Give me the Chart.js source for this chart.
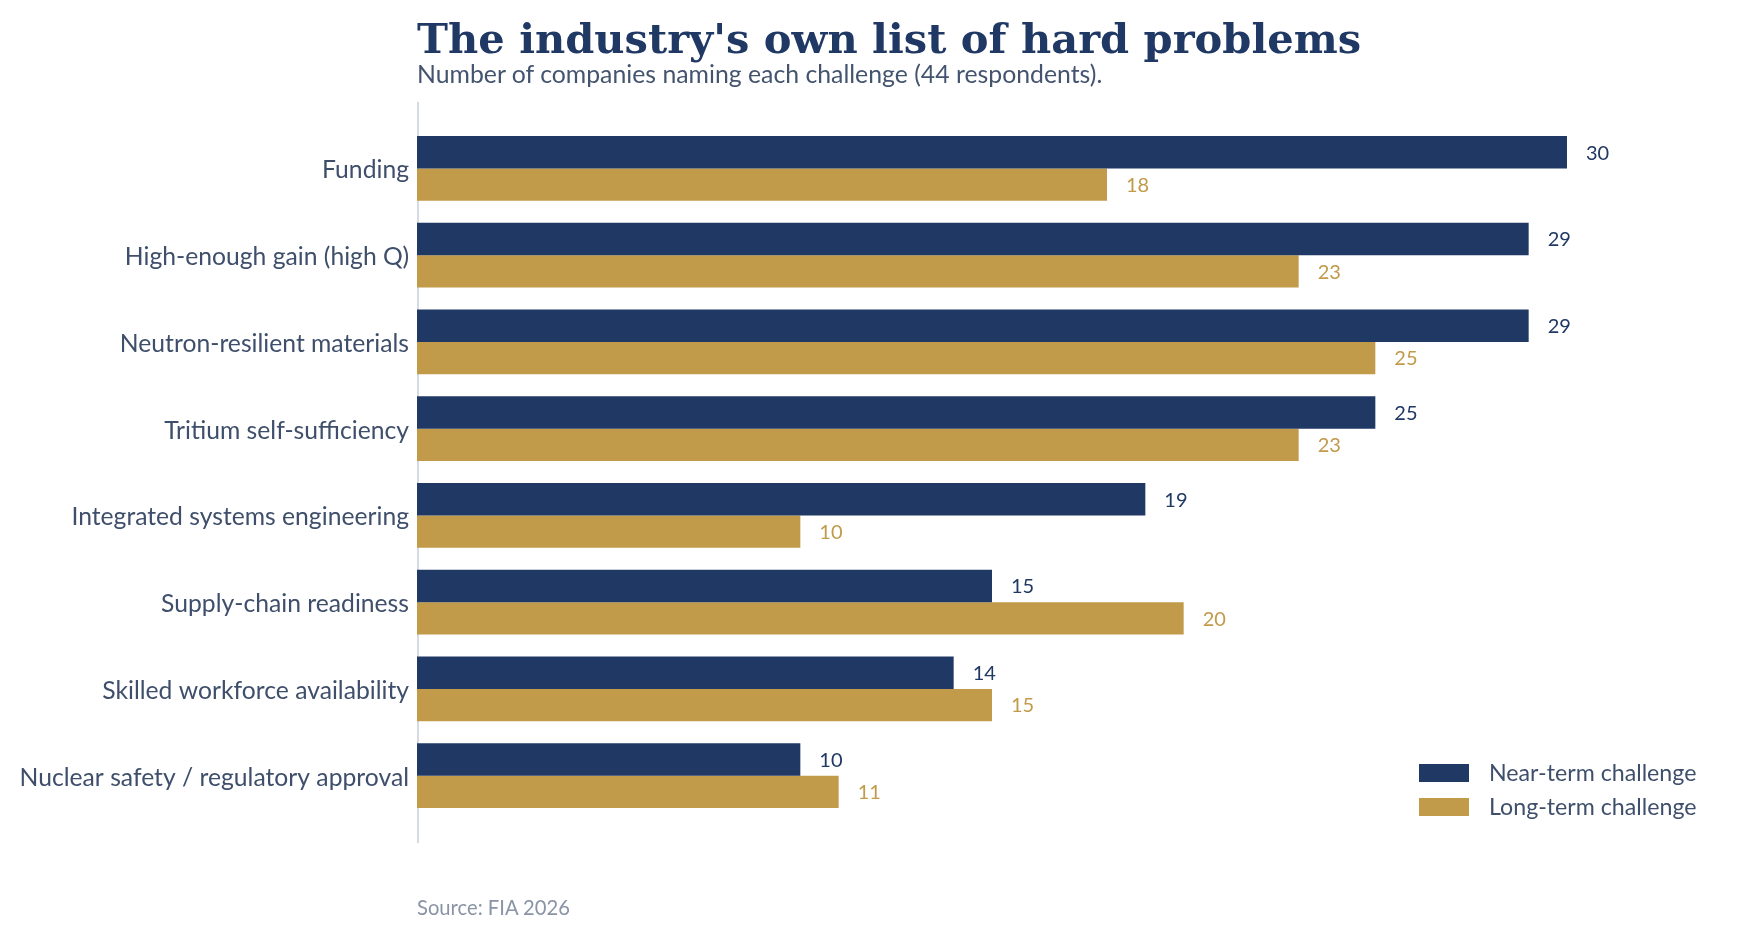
<!DOCTYPE html>
<html>
<head>
<meta charset="utf-8">
<script src="https://cdn.jsdelivr.net/npm/chart.js@4.4.1/dist/chart.umd.min.js"></script>
<style>
  html, body { margin: 0; padding: 0; background: #fff; }
  #wrap { position: relative; width: 1740px; height: 940px; overflow: hidden; }
  #chart { position: absolute; left: 0; top: 0; }
  .title { position: absolute; left: 417px; top: 14px; margin: 0;
    font-family: "DejaVu Serif", serif; font-weight: bold; font-size: 41.6px; color: #1f3864; white-space: nowrap; }
  .subtitle { position: absolute; left: 417px; top: 59px; margin: 0;
    font-family: Lato, sans-serif; font-size: 24.8px; color: #44546f; white-space: nowrap; }
  .source { position: absolute; left: 417px; top: 895px; margin: 0;
    font-family: Lato, sans-serif; font-size: 20.2px; color: #8a94a6; white-space: nowrap; }
</style>
</head>
<body>
<div id="wrap">
  <canvas id="chart" width="1740" height="940"></canvas>
  <h1 class="title">The industry's own list of hard problems</h1>
  <p class="subtitle">Number of companies naming each challenge (44 respondents).</p>
  <p class="source">Source: FIA 2026</p>
</div>
<script>
// challenges named by respondents
var categories = [
  'Funding',
  'High-enough gain (high Q)',
  'Neutron-resilient materials',
  'Tritium self-sufficiency',
  'Integrated systems engineering',
  'Supply-chain readiness',
  'Skilled workforce availability',
  'Nuclear safety / regulatory approval'
];
var nearTerm = [30, 29, 29, 25, 19, 15, 14, 10];
var longTerm = [18, 23, 25, 23, 10, 20, 15, 11];

var NAVY = '#203864';
var GOLD = '#c19a4a';
var TEXT = '#3f4f6b';

// value labels at the end of each bar
var valueLabels = {
  id: 'valueLabels',
  afterDatasetsDraw: function(chart) {
    var ctx = chart.ctx;
    ctx.save();
    ctx.font = '20px Lato';
    ctx.textAlign = 'left';
    ctx.textBaseline = 'middle';
    chart.data.datasets.forEach(function(ds, i) {
      chart.getDatasetMeta(i).data.forEach(function(bar, j) {
        ctx.fillStyle = ds.backgroundColor;
        ctx.fillText(ds.data[j], bar.x + 19, bar.y + 1);
      });
    });
    ctx.restore();
  }
};

// y axis line, a bit longer than the band area
var axisLine = {
  id: 'axisLine',
  beforeDatasetsDraw: function(chart) {
    var a = chart.chartArea, ctx = chart.ctx;
    ctx.save();
    ctx.strokeStyle = '#d5dae3';
    ctx.lineWidth = 2;
    ctx.beginPath();
    ctx.moveTo(a.left + 1, a.top - 23);
    ctx.lineTo(a.left + 1, a.bottom + 24);
    ctx.stroke();
    ctx.restore();
  }
};

// legend in the lower right corner of the plot
var cornerLegend = {
  id: 'cornerLegend',
  afterDraw: function(chart) {
    var ctx = chart.ctx;
    ctx.save();
    ctx.font = '23.2px Lato';
    ctx.textBaseline = 'middle';
    ctx.textAlign = 'left';
    chart.data.datasets.forEach(function(ds, i) {
      var y = 773 + i * 34;
      ctx.fillStyle = ds.backgroundColor;
      ctx.fillRect(1419, y - 9, 50, 18);
      ctx.fillStyle = TEXT;
      ctx.fillText(ds.label, 1489, y + 1);
    });
    ctx.restore();
  }
};

document.fonts.load('22px Lato').then(function() {
  new Chart(document.getElementById('chart').getContext('2d'), {
    type: 'bar',
    data: {
      labels: categories,
      datasets: [{
        label: 'Near-term challenge',
        data: nearTerm,
        backgroundColor: NAVY,
        categoryPercentage: 0.744,
        barPercentage: 1.0
      }, {
        label: 'Long-term challenge',
        data: longTerm,
        backgroundColor: GOLD,
        categoryPercentage: 0.744,
        barPercentage: 1.0
      }]
    },
    options: {
      indexAxis: 'y',
      responsive: false,
      animation: false,
      layout: { padding: { left: 0, right: 58, top: 125, bottom: 121 } },
      scales: {
        x: { display: false, min: 0, max: 33 },
        y: {
          grid: { display: false },
          border: { display: false },
          ticks: { color: TEXT, font: { family: 'Lato', size: 24.7 }, padding: 0, labelOffset: 2 },
          afterFit: function(scale) { scale.width = 417; }
        }
      },
      plugins: {
        legend: { display: false },
        tooltip: { enabled: false }
      }
    },
    plugins: [axisLine, valueLabels, cornerLegend]
  });
});
</script>
</body>
</html>
